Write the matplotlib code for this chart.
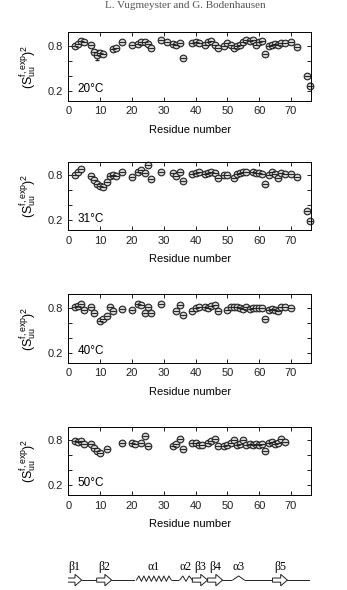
import matplotlib
matplotlib.use("AGG")
import matplotlib.pyplot as plt
import numpy as np
from matplotlib.patches import Polygon

plt.rcParams['font.family'] = ['Liberation Sans', 'DejaVu Sans']
plt.rcParams['mathtext.default'] = 'regular'

# order parameters, per temperature
res_20 = [2, 3, 4, 5, 7, 8, 9, 10, 11, 14, 15, 17, 20, 22, 23, 24, 25, 26, 29, 31, 33, 34, 35, 36,
          39, 40, 41, 43, 44, 45, 46, 47, 49, 50, 51, 52, 53, 54, 55, 56, 57, 58, 59, 60, 61, 62,
          63, 64, 65, 66, 67, 68, 70, 72, 75, 76]
s2_20 = [0.80, 0.83, 0.87, 0.85, 0.81, 0.72, 0.68, 0.71, 0.69, 0.76, 0.77, 0.85, 0.82, 0.83, 0.86,
         0.85, 0.83, 0.78, 0.88, 0.86, 0.83, 0.82, 0.84, 0.64, 0.84, 0.85, 0.84, 0.82, 0.85, 0.87,
         0.81, 0.78, 0.80, 0.84, 0.82, 0.78, 0.80, 0.81, 0.85, 0.89, 0.87, 0.89, 0.82, 0.85, 0.87,
         0.70, 0.80, 0.82, 0.83, 0.82, 0.84, 0.84, 0.86, 0.79, 0.40, 0.27]
err_20 = [0.07 if r == 9 else (0.03 if r in (8, 10, 75, 76) else 0.0) for r in res_20]

res_31 = [2, 3, 4, 7, 8, 9, 10, 11, 12, 13, 14, 15, 17, 20, 22, 23, 24, 25, 26, 29, 33, 34, 35, 36,
          39, 40, 41, 43, 44, 45, 46, 47, 49, 50, 52, 53, 54, 55, 56, 58, 59, 60, 61, 62, 63, 64,
          65, 66, 67, 68, 70, 72, 75, 76]
s2_31 = [0.81, 0.84, 0.88, 0.79, 0.74, 0.68, 0.66, 0.65, 0.71, 0.79, 0.81, 0.79, 0.84, 0.78, 0.85,
         0.87, 0.83, 0.94, 0.75, 0.85, 0.83, 0.79, 0.85, 0.73, 0.82, 0.83, 0.84, 0.82, 0.83, 0.84,
         0.83, 0.76, 0.81, 0.80, 0.77, 0.82, 0.83, 0.84, 0.84, 0.84, 0.83, 0.83, 0.82, 0.68, 0.80,
         0.84, 0.82, 0.77, 0.83, 0.82, 0.82, 0.78, 0.32, 0.19]

res_40 = [2, 3, 4, 5, 7, 8, 10, 11, 12, 13, 14, 17, 20, 22, 23, 24, 25, 26, 29, 34, 35, 36, 39, 40,
          41, 43, 44, 45, 46, 47, 50, 51, 52, 53, 54, 55, 56, 57, 58, 59, 60, 61, 62, 63, 64, 65,
          66, 67, 68, 70]
s2_40 = [0.81, 0.83, 0.86, 0.77, 0.81, 0.73, 0.63, 0.65, 0.70, 0.81, 0.76, 0.79, 0.77, 0.86, 0.84,
         0.73, 0.82, 0.73, 0.86, 0.76, 0.84, 0.71, 0.76, 0.80, 0.81, 0.81, 0.80, 0.83, 0.84, 0.76,
         0.77, 0.82, 0.81, 0.82, 0.80, 0.79, 0.82, 0.79, 0.80, 0.80, 0.80, 0.80, 0.66, 0.77, 0.79,
         0.77, 0.76, 0.81, 0.82, 0.80]

res_50 = [2, 3, 4, 5, 7, 8, 9, 10, 12, 17, 20, 21, 23, 24, 25, 33, 34, 35, 36, 39, 40, 41, 42, 44,
          45, 46, 47, 49, 50, 51, 52, 53, 54, 55, 56, 57, 58, 59, 60, 61, 62, 63, 64, 65, 66, 67, 68]
s2_50 = [0.79, 0.78, 0.79, 0.75, 0.75, 0.70, 0.65, 0.63, 0.69, 0.76, 0.76, 0.75, 0.77, 0.86, 0.73,
         0.72, 0.75, 0.82, 0.69, 0.77, 0.76, 0.74, 0.74, 0.77, 0.79, 0.82, 0.72, 0.72, 0.74, 0.77,
         0.80, 0.74, 0.75, 0.80, 0.74, 0.75, 0.74, 0.75, 0.74, 0.75, 0.65, 0.76, 0.78, 0.75, 0.76,
         0.82, 0.78]

temps = ['20°C', '31°C', '40°C', '50°C']

# secondary structure (start, end, label) along the sequence
strands = [(-0.5, 4.2, 'β1'), (8.9, 13.6, 'β2'), (39.0, 43.8, 'β3'), (43.8, 48.5, 'β4'),
           (64.2, 68.9, 'β5')]
helices = [(21.4, 32.4, 7, 'α1'), (35.0, 39.0, 2, 'α2'), (51.7, 55.4, 1, 'α3')]
backbone = (4.2, 75.8)

fig = plt.figure(figsize=(3.47, 5.90), dpi=100)
fig.text(0.535, 0.998, 'L. Vugmeyster and G. Bodenhausen', ha='center', va='top',
         fontsize=8, family='Liberation Serif', color='#555555')

bottoms = [0.829, 0.610, 0.385, 0.161]
data = [(res_20, s2_20, err_20), (res_31, s2_31, None), (res_40, s2_40, None), (res_50, s2_50, None)]
for (x, y, e), b, t in zip(data, bottoms, temps):
    ax = fig.add_axes([0.197, b, 0.700, 0.116])
    if e is not None:
        ax.errorbar(x, y, yerr=e, fmt='none', ecolor='#222222', elinewidth=0.7, capsize=1.5,
                    clip_on=False)
    ax.plot(x, y, 'o', ms=4.8, mfc='#d0d0d0', mec='#222222', mew=0.8, ls='none', clip_on=False)
    ax.plot(x, y, '_', ms=4.8, color='#222222', mew=0.7, ls='none', clip_on=False)
    ax.set_xlim(0, 76.4)
    ax.set_ylim(0.065, 0.985)
    ax.set_xticks(range(0, 71, 10))
    ax.set_yticks([0.2, 0.4, 0.6, 0.8])
    ax.set_yticklabels(['0.2', '', '', '0.8'])
    ax.tick_params(direction='in', top=True, right=True, length=3, width=0.7,
                   labelsize=8, pad=4, colors='#222222')
    for sp in ax.spines.values():
        sp.set_linewidth(0.7)
    ax.set_xlabel('Residue number', fontsize=8, labelpad=6)
    ax.set_ylabel(r'$(S_{uu}^{f,exp})^2$', fontsize=9, labelpad=6)
    ax.text(3.0, 0.22, t, fontsize=8.5, va='center', ha='left')

# secondary structure cartoon
sx = fig.add_axes([0.197, 0.0, 0.700, 0.07])
sx.set_xlim(0, 76.4)
sx.set_ylim(0, 1)
sx.axis('off')
yl = 0.24
sx.plot(backbone, [yl, yl], color='#222222', lw=0.7)
for s, e, lab in strands:
    L = e - s
    pts = [(s, yl - 0.05), (s + 0.55 * L, yl - 0.05), (s + 0.55 * L, yl - 0.14), (e, yl),
           (s + 0.55 * L, yl + 0.14), (s + 0.55 * L, yl + 0.05), (s, yl + 0.05)]
    sx.add_patch(Polygon(pts, closed=True, fc='white', ec='#222222', lw=0.7, zorder=3))
    sx.text((s + e) / 2, 0.56, lab, ha='center', va='center', fontsize=8.5,
            family='Liberation Serif')
for s, e, n, lab in helices:
    xs = np.linspace(s, e, 2 * n + 1)
    ys = [yl + (0.1 if i % 2 else -0.03) for i in range(2 * n + 1)]
    ys[0] = ys[-1] = yl
    sx.plot([s, e], [yl, yl], color='white', lw=1.5, zorder=2)
    sx.plot(xs, ys, color='#222222', lw=0.7, zorder=3)
    sx.text((s + e) / 2, 0.56, lab, ha='center', va='center', fontsize=8.5,
            family='Liberation Serif')

fig.savefig('out.png', dpi=100)
